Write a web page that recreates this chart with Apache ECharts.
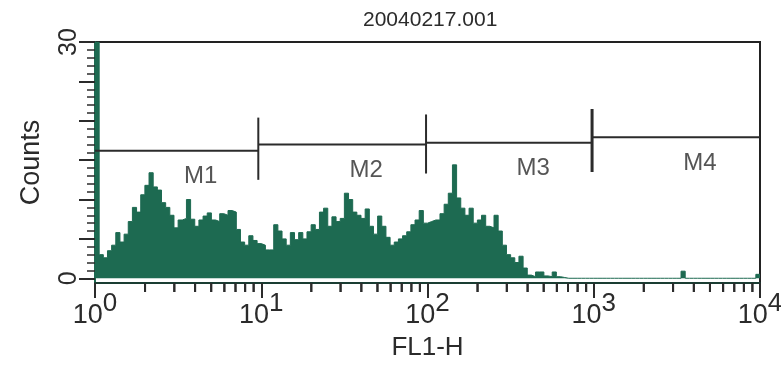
<!DOCTYPE html>
<html>
<head>
<meta charset="utf-8">
<script src="https://cdn.jsdelivr.net/npm/echarts@6/dist/echarts.min.js"></script>
<style>
  html, body { margin: 0; padding: 0; background: #fff; }
  #main { width: 781px; height: 369px; }
</style>
</head>
<body>
<div id="main"></div>
<script>
// FL1-H histogram, 40 bins per decade (log scale)
var binsPerDecade = 40
var countsDecade1 = [30, 3.0, 2.6, 3.5, 4.2, 5.8, 4.6, 5.6, 7.2, 9.0,
    8.4, 10.6, 11.8, 13.4, 11.6, 11.2, 9.6, 9.0, 8.0, 6.4,
    7.4, 7.6, 10.0, 7.5, 6.6, 7.4, 7.9, 8.3, 7.4, 7.2,
    8.2, 8.0, 8.6, 8.4, 6.2, 4.6, 4.2, 5.4, 4.8, 4.4]
var countsDecade2 = [4.2, 3.6, 3.6, 6.8, 6.0, 5.0, 4.2, 5.8, 4.9, 5.8,
    5.0, 5.9, 6.8, 6.2, 8.4, 8.9, 6.6, 7.8, 7.2, 7.6,
    10.8, 10.0, 8.4, 8.0, 7.6, 8.8, 6.6, 5.6, 7.9, 6.6,
    5.2, 4.2, 4.6, 5.0, 5.4, 5.9, 6.8, 7.4, 8.6, 7.0]
var countsDecade3 = [7.2, 7.4, 7.4, 8.2, 9.4, 10.8, 14.4, 10.2, 8.9, 8.0,
    8.9, 7.0, 7.4, 8.0, 6.6, 6.4, 8.0, 6.0, 4.2, 3.0,
    2.6, 2.0, 2.8, 1.3, 0.4, 0.2, 0.8, 0.8, 0.3, 0.2,
    0.8, 0.2, 0.1, 0, 0, 0, 0, 0, 0, 0]
var countsDecade4 = [0, 0, 0, 0, 0, 0, 0, 0, 0, 0,
    0, 0, 0, 0, 0, 0, 0, 0, 0, 0,
    0, 0.9, 0, 0, 0, 0, 0, 0, 0, 0,
    0, 0, 0, 0, 0, 0, 0, 0, 0, 0.5]

// markers
var markerNames = ['M1', 'M2', 'M3', 'M4']
var markerStart = [1, 9.6, 98, 977]
var markerEnd = [9.6, 98, 977, 10000]
var markerLevel = [16.2, 17.0, 17.2, 17.9]
var markerBarTop = [20.4, 20.8, 21.5, null]
var markerBarBottom = [12.5, 13.3, 13.5, null]

var yMin = -0.6
var yLabels = [0, 30]
var yMajorTicks = [0, 5, 10, 15, 20, 25, 30]
var yMinorTicks = [0, 1, 2, 3, 4, 5, 6, 7, 8, 9, 10, 11, 12, 13, 14, 15, 16, 17, 18, 19, 20, 21, 22, 23, 24, 25, 26, 27, 28, 29, 30]
var xMinorTicks = [2, 3, 4, 5, 6, 7, 8, 9, 20, 30, 40, 50, 60, 70, 80, 90,
    200, 300, 400, 500, 600, 700, 800, 900, 2000, 3000, 4000, 5000, 6000, 7000, 8000, 9000]

var counts = countsDecade1.concat(countsDecade2, countsDecade3, countsDecade4)
var histData = counts.map(function (c, i) { return [Math.pow(10, i / binsPerDecade), c] })
histData.push([10000, counts[counts.length - 1]])

var chart = echarts.init(document.getElementById('main'))

var series = [{
    type: 'line',
    step: 'end',
    symbol: 'none',
    data: histData,
    lineStyle: { width: 1, color: '#1d6a51' },
    areaStyle: { color: '#1d6a51', opacity: 1 },
    z: 2
}]

markerNames.forEach(function (name, i) {
    series.push({
        type: 'line', symbol: 'none', silent: true, z: 5,
        lineStyle: { color: '#2b2b2b', width: 2 },
        data: [[markerStart[i], markerLevel[i]], [markerEnd[i], markerLevel[i]]]
    })
    if (markerBarTop[i] != null) {
        series.push({
            type: 'line', symbol: 'none', silent: true, z: 5,
            lineStyle: { color: '#2b2b2b', width: i === 2 ? 3 : 2 },
            data: [[markerEnd[i], markerBarTop[i]], [markerEnd[i], markerBarBottom[i]]]
        })
    }
})

series.push({
    type: 'scatter',
    symbolSize: 0,
    silent: true,
    z: 6,
    data: markerNames.map(function (name, i) {
        return { value: [Math.sqrt(markerStart[i] * markerEnd[i]), markerLevel[i]], name: name }
    }),
    label: {
        show: true,
        formatter: '{b}',
        position: 'inside',
        offset: [24, 26],
        fontSize: 24,
        color: '#2b2b2b',
        fontFamily: 'Liberation Sans'
    }
})

// minor ticks of the log axis (2..9 in every decade)
series.push({
    type: 'custom',
    silent: true,
    clip: false,
    z: 20,
    data: xMinorTicks.map(function (v) { return [v, yMin] }),
    renderItem: function (params, api) {
        var p = api.coord([api.value(0), api.value(1)])
        return {
            type: 'line',
            z2: 100,
            shape: { x1: p[0], y1: p[1], x2: p[0], y2: p[1] + 9 },
            style: { stroke: '#2b2b2b', lineWidth: 2 }
        }
    }
})

var option = {
    animation: false,
    textStyle: { fontFamily: 'Liberation Sans' },
    title: {
        text: '20040217.001',
        left: 358,
        top: 5,
        textStyle: { fontSize: 21, fontWeight: 'normal', color: '#2b2b2b', fontFamily: 'Liberation Sans' }
    },
    grid: {
        left: 95, right: 21, top: 42, bottom: 86,
        outerBoundsMode: 'none',
        containLabel: false,
        show: true,
        borderColor: '#222',
        borderWidth: 2
    },
    xAxis: {
        type: 'log',
        logBase: 10,
        min: 1,
        max: 10000,
        z: 10,
        name: 'FL1-H',
        nameLocation: 'middle',
        nameGap: 52,
        nameTextStyle: { fontSize: 26, color: '#2b2b2b' },
        axisLine: { onZero: false, lineStyle: { color: '#1a3d33', width: 2 } },
        axisTick: { length: 15, lineStyle: { color: '#2b2b2b', width: 2 } },
        splitLine: { show: false },
        axisLabel: {
            margin: 8,
            color: '#2b2b2b',
            formatter: function (v) {
                return '{a|10}{b|' + Math.round(Math.log10(v)) + '}'
            },
            rich: {
                a: { fontSize: 27, color: '#2b2b2b', verticalAlign: 'bottom' },
                b: { fontSize: 26, color: '#2b2b2b', verticalAlign: 'bottom', padding: [0, 0, 12, 0] }
            }
        }
    },
    yAxis: [{
        type: 'value',
        min: yMin,
        max: 30,
        name: 'Counts',
        nameLocation: 'middle',
        nameGap: 50,
        nameTextStyle: { fontSize: 27, color: '#2b2b2b' },
        axisLine: { show: true, onZero: false, lineStyle: { color: '#1d6a51', width: 2 } },
        axisTick: { customValues: yMajorTicks, length: 16, lineStyle: { color: '#2b2b2b', width: 2 } },
        axisLabel: { customValues: yLabels, rotate: 90, fontSize: 25, color: '#2b2b2b', margin: 13 },
        splitLine: { show: false }
    }, {
        type: 'value',
        min: yMin,
        max: 30,
        position: 'left',
        axisLine: { show: false, onZero: false },
        axisLabel: { show: false },
        splitLine: { show: false },
        axisTick: { show: true, customValues: yMinorTicks, length: 8, lineStyle: { color: '#2b2b2b', width: 1.5 } }
    }],
    series: series
}

chart.setOption(option, true)

// same minor ticks again as graphic elements, placed with the chart's own scales
var axisY = chart.convertToPixel({ yAxisIndex: 0 }, yMin)
var minorTickGraphics = xMinorTicks.map(function (v) {
    var x = chart.convertToPixel({ xAxisIndex: 0 }, v)
    return {
        type: 'line',
        silent: true,
        z: 100,
        shape: { x1: x, y1: axisY, x2: x, y2: axisY + 9 },
        style: { stroke: '#2b2b2b', lineWidth: 2 }
    }
})
chart.setOption({ graphic: minorTickGraphics })
</script>
</body>
</html>
